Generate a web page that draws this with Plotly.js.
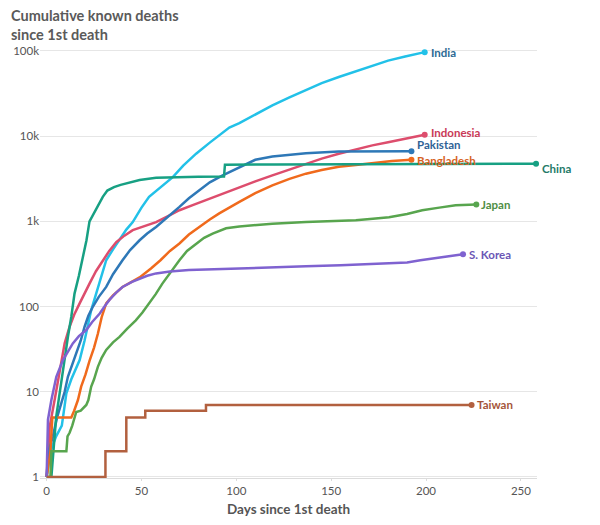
<!DOCTYPE html>
<html>
<head>
<meta charset="utf-8">
<script src="https://cdn.plot.ly/plotly-3.0.1.min.js"></script>
<style>html,body{margin:0;padding:0;background:#fff;}#chart{width:600px;height:525px;}</style>
</head>
<body>
<div id="chart"></div>
<script>
// ---- data (days since first death, cumulative deaths) ----
const countries = ["India", "Indonesia", "Pakistan", "Bangladesh", "China", "Japan", "S. Korea", "Taiwan"];

const indiaDays = [0, 2, 5, 8, 10.4, 13, 17.4, 20, 23.5, 27, 31.4, 35, 38.4, 42, 45.4, 50, 54, 60, 66.5, 72, 78.8, 86, 93.7, 96.3, 101.6, 110, 119, 128, 136.7, 145, 154, 163, 171.7, 180, 189, 199.3];
const indiaVals = [1, 2, 3, 4, 9.6, 14, 23.6, 40, 91, 170, 350, 470, 600, 800, 980, 1450, 1940, 2500, 3300, 4500, 6230, 8400, 11200, 12600, 14200, 18000, 23000, 28500, 34600, 42000, 49500, 58000, 67600, 77000, 86000, 96900];

const indonesiaDays = [0, 1.6, 4.2, 6.8, 9.5, 12.1, 14.5, 17.4, 20, 22.6, 26, 29.6, 33, 36.7, 41, 45.4, 51, 57.7, 64, 70, 77, 84, 92, 101.6, 110, 119, 128, 136.7, 145, 154, 163, 171.7, 180, 189, 199.3];
const indonesiaVals = [1, 3.9, 8, 18, 37, 58, 80, 109, 145, 186, 260, 350, 450, 570, 680, 790, 880, 980, 1150, 1350, 1550, 1780, 2100, 2520, 2950, 3470, 4050, 4740, 5450, 6230, 7000, 7800, 8500, 9340, 10400];

const pakistanDays = [0, 1, 3.3, 5.5, 7.7, 9.5, 11.2, 13.5, 15.6, 18, 20, 22, 24.4, 27.5, 31.4, 35, 40, 44, 49, 53, 57.7, 64, 70, 75, 80.5, 86, 92.8, 97, 101.6, 106, 110, 119, 128, 136.7, 154, 172, 192.3];
const pakistanVals = [1, 2, 3, 5, 7.3, 10, 15, 21, 28, 40, 58, 78, 100, 130, 170, 240, 350, 460, 600, 720, 860, 1130, 1480, 1870, 2320, 2870, 3470, 3850, 4300, 4850, 5280, 5770, 6050, 6320, 6600, 6620, 6630];

const bangladeshDays = [0, 2, 3, 13, 14.5, 16.5, 18.2, 20.5, 22.6, 25, 27, 29, 31.4, 35, 40, 45, 49, 55, 60, 65, 70, 75, 80.5, 86, 91, 96, 101.6, 110, 119, 128, 136.7, 145, 154, 163, 171.7, 182, 192.3];
const bangladeshVals = [1, 2, 5, 5, 6, 8, 11.5, 16, 23, 33, 48, 75, 109, 135, 170, 195, 220, 280, 350, 450, 550, 700, 860, 1050, 1240, 1450, 1690, 2150, 2650, 3150, 3630, 4000, 4370, 4600, 4840, 5100, 5300];

const chinaDays = [0, 2.5, 5, 6.8, 9.5, 11.2, 13, 14.7, 17, 18.8, 21, 22.6, 25, 27, 29.6, 32, 35.5, 39, 42, 49, 57.7, 66.5, 80, 93.5, 94, 120, 160, 200, 258];
const chinaVals = [1, 1, 5, 9.6, 23, 44, 76, 142, 230, 350, 600, 1000, 1250, 1480, 1940, 2300, 2520, 2680, 2800, 3060, 3240, 3300, 3340, 3360, 4630, 4650, 4690, 4720, 4760];

const japanDays = [0, 2, 2.5, 10.4, 11, 12.1, 13.5, 15.6, 18, 20.9, 22, 23.5, 25, 27, 29, 31.4, 35, 38.4, 42.5, 47, 50.5, 54, 57.5, 61, 65, 70, 74, 78.8, 83, 87.5, 94.6, 101.6, 110, 119, 136.7, 150, 163, 172, 180.5, 190, 198, 207, 215.6, 226.5];
const japanVals = [1, 1, 2, 2, 3, 3.3, 4, 5.8, 6, 7, 8, 11.5, 14, 19.6, 25, 31, 38, 44, 55, 69, 85, 109, 140, 186, 250, 350, 450, 550, 640, 720, 830, 870, 910, 940, 980, 1000, 1030, 1070, 1120, 1220, 1350, 1450, 1550, 1580];

const koreaDays = [0, 0.7, 2.5, 5.1, 8.6, 13.8, 17, 20.9, 24, 28, 30.5, 33, 36.5, 40, 45, 49, 53, 57.7, 65, 75, 88, 101.6, 120, 136.7, 155, 171.7, 182, 190, 197, 204, 212, 219.5];
const koreaVals = [1, 4.7, 8, 15, 23.6, 37, 45, 53, 66, 83, 100, 119, 145, 170, 195, 214, 230, 245, 258, 268, 275, 280, 288, 297, 306, 315, 320, 330, 350, 370, 390, 410];

const taiwanDays = [0, 31, 42, 52, 84, 224];
const taiwanVals = [1, 2, 5, 6, 7, 7];

const yTickVals = [1, 10, 100, 1000, 10000, 100000];
const yTickText = ["1", "10", "100", "1k", "10k", "100k"];
const xTickVals = [0, 50, 100, 150, 200, 250];

// ---- styling ----
const FONT = "Lato, 'Open Sans', sans-serif";
const series = [
  {name: "India", x: indiaDays, y: indiaVals, line: "#22c1e8", label: "#2c6a94", dx: 5, dy: 0},
  {name: "Indonesia", x: indonesiaDays, y: indonesiaVals, line: "#dd4d6d", label: "#c93a57", dx: 5, dy: 2},
  {name: "Pakistan", x: pakistanDays, y: pakistanVals, line: "#2e78b7", label: "#2f6396", dx: 5, dy: 7},
  {name: "Bangladesh", x: bangladeshDays, y: bangladeshVals, line: "#f06a1c", label: "#d6621e", dx: 5, dy: -1},
  {name: "China", x: chinaDays, y: chinaVals, line: "#17a083", label: "#237a68", dx: 5, dy: -5},
  {name: "Japan", x: japanDays, y: japanVals, line: "#58a54e", label: "#4f8e45", dx: 4, dy: 0},
  {name: "S. Korea", x: koreaDays, y: koreaVals, line: "#7f62d0", label: "#6a56b5", dx: 5, dy: 0},
  {name: "Taiwan", x: taiwanDays, y: taiwanVals, line: "#b2603f", label: "#a4553a", dx: 4, dy: 0, shape: "hv"}
];

const traces = [];
const annotations = [];
series.forEach(s => {
  traces.push({
    type: "scatter", mode: "lines", x: s.x, y: s.y, name: s.name,
    line: {color: s.line, width: 2.5, shape: s.shape || "linear"},
    hoverinfo: "x+y+name"
  });
  const lx = s.x[s.x.length - 1], ly = s.y[s.y.length - 1];
  traces.push({
    type: "scatter", mode: "markers", x: [lx], y: [ly], showlegend: false,
    marker: {color: s.line, size: 6}, cliponaxis: false, hoverinfo: "skip"
  });
  annotations.push({
    x: lx, y: Math.log10(ly), xref: "x", yref: "y", text: "<b>" + s.name + "</b>",
    showarrow: false, xanchor: "left", yanchor: "middle", xshift: s.dx, yshift: s.dy,
    borderpad: 0,
    font: {family: FONT, size: 11.5, color: s.label}
  });
});

annotations.push({
  xref: "paper", yref: "paper", x: -0.062, y: 1.047, xanchor: "left", yanchor: "middle", align: "left",
  text: "<b>Cumulative known deaths<br>since 1st death</b>", showarrow: false,
  font: {family: FONT, size: 14.5, color: "#5a5a5a"}
});

const layout = {
  width: 600, height: 525,
  margin: {l: 40, r: 63, t: 45, b: 47},
  paper_bgcolor: "#fff", plot_bgcolor: "#fff",
  showlegend: false,
  font: {family: FONT, color: "#555"},
  xaxis: {
    range: [-3.5, 258.5], tickvals: xTickVals, showgrid: false, zeroline: false,
    showline: true, linecolor: "#dcdcdc", linewidth: 1,
    ticks: "outside", ticklen: 2, tickcolor: "#dcdcdc",
    tickfont: {size: 11.5, color: "#555"},
    title: {text: "<b>Days since 1st death</b>", font: {size: 13.5, color: "#555"}, standoff: 8}
  },
  yaxis: {
    type: "log", range: [-0.012, 5.07], tickvals: yTickVals, ticktext: yTickText,
    showgrid: true, gridcolor: "#e6e6e6", gridwidth: 1, zeroline: false, showline: false,
    ticks: "", tickfont: {size: 11.5, color: "#555"}
  },
  annotations: annotations
};

Plotly.newPlot("chart", traces, layout, {displayModeBar: false, staticPlot: true});
</script>
</body>
</html>
